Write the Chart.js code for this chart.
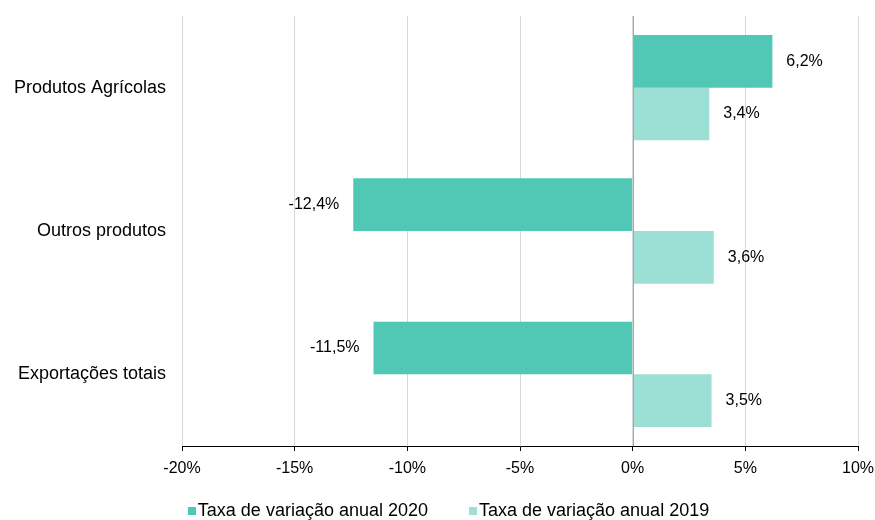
<!DOCTYPE html>
<html>
<head>
<meta charset="utf-8">
<script src="https://cdn.jsdelivr.net/npm/chart.js@4"></script>
<style>
  body { margin: 0; background: #fff; font-family: "Liberation Sans", Arial, sans-serif; }
  #wrap { width: 875px; height: 520px; }
</style>
</head>
<body>
<div id="wrap"><canvas id="chart-canvas"></canvas></div>
<script>
const categories = ['Produtos Agrícolas', 'Outros produtos', 'Exportações totais'];
const values2020 = [6.2, -12.4, -11.5];
const values2019 = [3.4, 3.6, 3.5];
const seriesLabels = ['Taxa de variação anual 2020', 'Taxa de variação anual 2019'];
const seriesColors = ['#50c8b5', '#9ce0d5'];

const fontFamily = "'Liberation Sans', Arial, sans-serif";
Chart.defaults.font.family = fontFamily;

function fmt(v) {
    return v.toFixed(1).replace('.', ',') + '%';
}

// legend swatch: small square sitting right next to the text
const SWATCH_SLOT = 27;
function makeSwatch(color) {
    const c = document.createElement('canvas');
    c.width = SWATCH_SLOT + 14;
    c.height = 8;
    const g = c.getContext('2d');
    g.fillStyle = color;
    g.fillRect(c.width - 8, 0, 8, 8);
    return c;
}

const valueLabels = {
    id: 'valueLabels',
    beforeLayout(chart) {
        const lg = chart.legend;
        if (lg && !lg._fixedHeight) {
            const fit = lg.fit;
            lg.fit = function() { fit.call(this); this.height = 33; };
            lg._fixedHeight = true;
        }
    },
    afterDatasetsDraw(chart) {
        const ctx = chart.ctx;
        const xScale = chart.scales.x;
        const area = chart.chartArea;
        // zero line over the bars
        const x0 = Math.round(xScale.getPixelForValue(0)) + 0.5;
        ctx.save();
        ctx.strokeStyle = '#a6a6a6';
        ctx.lineWidth = 1;
        ctx.beginPath();
        ctx.moveTo(x0, area.top);
        ctx.lineTo(x0, area.bottom);
        ctx.stroke();

        ctx.font = '16px ' + fontFamily;
        ctx.fillStyle = '#000';
        ctx.textBaseline = 'middle';
        chart.data.datasets.forEach((ds, i) => {
            const meta = chart.getDatasetMeta(i);
            meta.data.forEach((bar, j) => {
                const v = ds.data[j];
                if (v >= 0) {
                    ctx.textAlign = 'left';
                    ctx.fillText(fmt(v), bar.x + 14, bar.y);
                } else {
                    ctx.textAlign = 'right';
                    ctx.fillText(fmt(v), bar.x - 14, bar.y);
                }
            });
        });
        ctx.restore();
    }
};

const config = {
    type: 'bar',
    data: {
        labels: categories,
        datasets: [{
            label: seriesLabels[0],
            data: values2020,
            backgroundColor: seriesColors[0],
            categoryPercentage: 0.735,
            barPercentage: 1
        }, {
            label: seriesLabels[1],
            data: values2019,
            backgroundColor: seriesColors[1],
            categoryPercentage: 0.735,
            barPercentage: 1
        }]
    },
    options: {
        indexAxis: 'y',
        responsive: true,
        maintainAspectRatio: false,
        animation: false,
        layout: {
            padding: { top: 16, right: 17, left: 13, bottom: 0 }
        },
        scales: {
            x: {
                min: -20,
                max: 10,
                ticks: {
                    stepSize: 5,
                    color: '#000',
                    font: { size: 16 },
                    padding: 8,
                    callback: v => v + '%'
                },
                grid: {
                    color: '#d9d9d9',
                    tickColor: '#000',
                    tickLength: 5,
                    lineWidth: 1
                },
                border: { color: '#000', width: 1 },
                afterFit: s => {
                    s.height = 41;
                    s.paddingLeft = 0;
                    s.paddingRight = 0;
                }
            },
            y: {
                ticks: {
                    color: '#000',
                    font: { size: 18 },
                    padding: 16
                },
                grid: { display: false, drawTicks: false },
                border: { display: false },
                afterFit: s => {
                    s.width = 169;
                    s.paddingTop = 0;
                    s.paddingBottom = 0;
                }
            }
        },
        plugins: {
            legend: {
                position: 'bottom',
                labels: {
                    color: '#000',
                    font: { size: 18 },
                    usePointStyle: true,
                    pointStyleWidth: SWATCH_SLOT,
                    padding: 15,
                    generateLabels(chart) {
                        const items = Chart.defaults.plugins.legend.labels.generateLabels(chart);
                        items.forEach((it, i) => { it.pointStyle = makeSwatch(seriesColors[i]); });
                        return items;
                    }
                }
            },
            tooltip: { enabled: false }
        }
    },
    plugins: [valueLabels]
};

document.fonts.load('16px "Liberation Sans"').then(function() {
    const ctx = document.getElementById('chart-canvas').getContext('2d');
    window.myBarChart = new Chart(ctx, config);
});
</script>
</body>
</html>
